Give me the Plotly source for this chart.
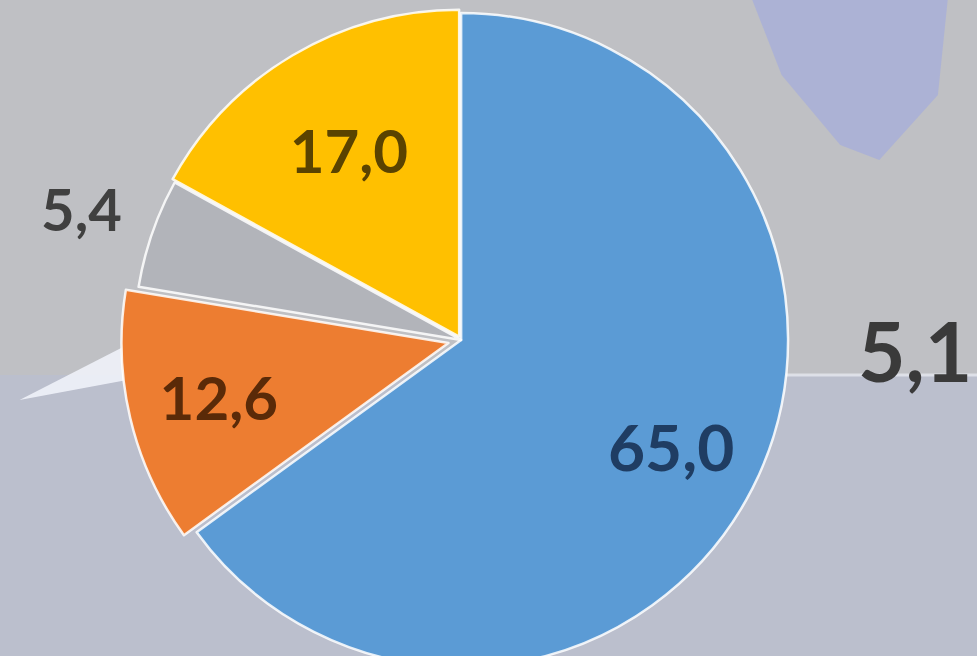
import math
import plotly.graph_objects as go

# Data
labels = ["A", "B", "C", "D"]
values = [65.0, 12.6, 5.4, 17.0]
value_text = ["65,0", "12,6", "5,4", "17,0"]
other_label = "5,1"

colors = ["#5b9bd5", "#ed7d31", "#b2b4ba", "#ffc000"]
text_colors = ["#1f3d63", "#5a2a08", "#404040", "#5a4300"]
pulls = [0.0, 0.04, 0.0, 0.012]

W, H = 977, 680
dom_x = [0.0, 0.944]
cx = (dom_x[0] + dom_x[1]) / 2 * W
cy = H / 2
R = (H / 2) / (1 + max(pulls))

fig = go.Figure()

inside_text = [value_text[i] if i in (1, 3) else "" for i in range(len(values))]

fig.add_trace(go.Pie(
    labels=labels,
    values=values,
    text=inside_text,
    textinfo="text",
    textposition="inside",
    insidetextorientation="horizontal",
    sort=False,
    direction="clockwise",
    rotation=0,
    pull=pulls,
    marker=dict(colors=colors, line=dict(color="rgba(255,255,255,0.85)", width=2.5)),
    textfont=dict(family="Lato", size=60, color=text_colors, weight="bold"),
    showlegend=False,
    hoverinfo="none",
    domain=dict(x=dom_x, y=[0.0, 1.0]),
))

total = sum(values)
def slice_point(idx, rfrac):
    start = sum(values[:idx])
    mid = (start + values[idx] / 2) / total * 2 * math.pi
    return cx + rfrac * R * math.sin(mid), cy - rfrac * R * math.cos(mid)

bx, by = slice_point(0, 0.72)
gx, gy = slice_point(2, 1.23)

annotations = [
    dict(text=value_text[0], x=bx, y=by, xref="x", yref="y", showarrow=False,
         font=dict(family="Lato", size=64, color=text_colors[0], weight="bold"),
         xanchor="center", yanchor="middle"),
    dict(text=value_text[2], x=gx, y=gy, xref="x", yref="y", showarrow=False,
         font=dict(family="Lato", size=58, color=text_colors[2], weight="bold"),
         xanchor="center", yanchor="middle"),
    dict(text=other_label, x=915, y=350, xref="x", yref="y", showarrow=False,
         font=dict(family="Lato", size=82, color="#3a3a3a", weight="bold"),
         xanchor="center", yanchor="middle"),
]

# Background decoration (visible window is the top 656 px)
def py(px):
    return 1 - px / H

shapes = [
    dict(type="rect", xref="paper", yref="paper", x0=0, x1=1, y0=0, y1=1,
         fillcolor="#bfc0c4", line_width=0, layer="below"),
    dict(type="rect", xref="paper", yref="paper", x0=0, x1=1, y0=0, y1=py(375),
         fillcolor="rgba(185,190,212,0.6)", line_width=0, layer="below"),
    dict(type="line", xref="paper", yref="paper", x0=0.80, x1=1, y0=py(375), y1=py(375),
         line=dict(color="rgba(235,238,245,0.7)", width=3), layer="below"),
    dict(type="path", xref="paper", yref="paper",
         path=f"M 0.77 1 L 0.97 1 L 0.96 {py(95)} L 0.90 {py(160)} L 0.86 {py(145)} L 0.80 {py(75)} Z",
         fillcolor="rgba(160,168,225,0.6)", line_width=0, layer="below"),
    dict(type="path", xref="paper", yref="paper",
         path=f"M 0.02 {py(400)} L 0.13 {py(345)} L 0.13 {py(380)} Z",
         fillcolor="rgba(240,242,250,0.9)", line_width=0, layer="below"),
]

fig.update_layout(
    width=W,
    height=H,
    margin=dict(l=0, r=0, t=0, b=0),
    paper_bgcolor="#bfc0c4",
    plot_bgcolor="rgba(0,0,0,0)",
    shapes=shapes,
    annotations=annotations,
    xaxis=dict(range=[0, W], visible=False, fixedrange=True),
    yaxis=dict(range=[H, 0], visible=False, fixedrange=True),
    uniformtext=dict(minsize=58, mode="show"),
)

fig.write_html(
    "out.html",
    config={"displayModeBar": False},
    post_script="document.body.style.margin='0';document.body.style.overflow='hidden';",
)
